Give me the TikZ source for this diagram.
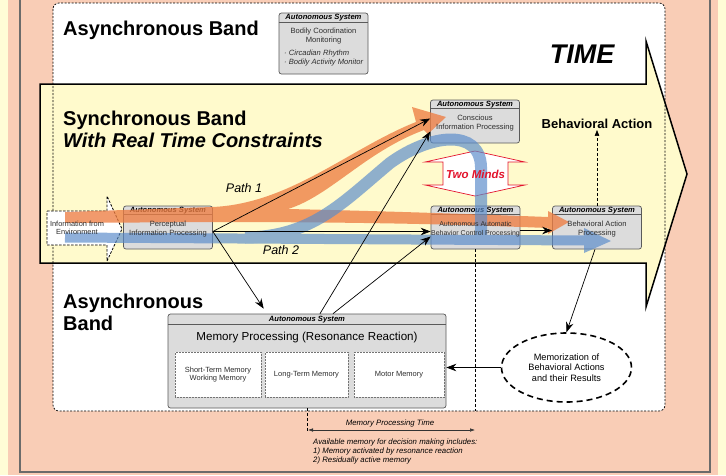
\documentclass[tikz,border=0pt]{standalone}
\usepackage{fontspec}
\setmainfont{Liberation Sans}
\usetikzlibrary{arrows.meta,positioning,shapes.geometric}

\definecolor{pageyellow}{HTML}{FFFCD6}
\definecolor{peach}{HTML}{F9CDB6}
\definecolor{framegrey}{HTML}{6B6B6B}
\definecolor{timeyellow}{HTML}{FFFACC}
\definecolor{boxgrey}{HTML}{DCDCDC}
\definecolor{boxedge}{HTML}{5A5A5A}
\definecolor{boxtext}{HTML}{2E2E2E}
\definecolor{flowora}{HTML}{EE7E43}
\definecolor{flowblue}{HTML}{5A8CCB}
\definecolor{mindred}{HTML}{E3142C}

% autonomous system box: name, x, y, width, height, header height
\newcommand{\autobox}[6]{%
  \node[autobox, minimum width=#4pt, minimum height=#5pt] (#1) at (#2,#3) {};
  \draw[boxedge, line width=0.6pt] ([yshift=-#6pt]#1.north west) -- ([yshift=-#6pt]#1.north east);
  \node[autohead] at ([yshift=-#6pt/2]#1.north) {Autonomous System};
}

\begin{document}
\begin{tikzpicture}[x=1pt, y=-1pt,
    autobox/.style={draw=boxedge, fill=boxgrey, rounded corners=2.5pt, line width=0.7pt, inner sep=0pt},
    autohead/.style={font=\fontsize{7.6}{8}\selectfont\bfseries\itshape, inner sep=0pt},
    autotext/.style={font=\fontsize{7.6}{8.6}\selectfont, text=boxtext, align=center, inner sep=0pt},
    bandtitle/.style={font=\fontsize{20}{22}\selectfont\bfseries, anchor=base west, inner sep=0pt},
    pathlabel/.style={font=\fontsize{12.5}{14}\selectfont\itshape, inner sep=0pt},
    link/.style={-{Stealth[length=10pt,width=7.5pt]}, line width=0.7pt},
    guide/.style={densely dashed, line width=0.6pt},
    asyncedge/.style={dash pattern=on 2pt off 1.5pt, line width=0.7pt, rounded corners=6pt},
    memcell/.style={draw=black!55, densely dotted, fill=white, line width=0.5pt, inner sep=0pt,
        minimum height=45pt, font=\fontsize{7.5}{8.6}\selectfont, align=center, text=boxtext}
]
\useasboundingbox (0,0) rectangle (726,475);

% page, frame and bands
\fill[pageyellow] (0,0) rectangle (726,475);
\fill[peach] (8,0) rectangle (718,475);
\draw[framegrey, line width=1.6pt] (20,-2) -- (20,472) -- (710,472) -- (710,-2);
\fill[white, rounded corners=6pt] (53,3) rectangle (665,411);
\filldraw[fill=timeyellow, line width=1.5pt] (40,84) -- (646,84) -- (646,41) -- (687,174)
    -- (646,307) -- (646,263) -- (40,263) -- cycle;
\draw[asyncedge] (53,3) rectangle (665,411);

\node[bandtitle] (async1) at (63,35) {Asynchronous Band};
\node[bandtitle, font=\fontsize{27}{30}\selectfont\bfseries\itshape, anchor=base] (time) at (582,63) {TIME};
\node[bandtitle] (sync1) at (63,125) {Synchronous Band};
\node[bandtitle, font=\fontsize{20}{22}\selectfont\bfseries\itshape] (sync2) at (63,147) {With Real Time Constraints};
\node[bandtitle] (async2) at (63,308) {Asynchronous};
\node[bandtitle] (async3) at (63,330) {Band};
\node[font=\fontsize{13}{14}\selectfont\bfseries, inner sep=1pt] (bact) at (597,124) {Behavioral Action};

% two minds
\filldraw[draw=mindred, fill=white, line width=0.7pt] (475,151) -- (525,162) -- (508,162) -- (508,185)
    -- (525,185) -- (475,196) -- (425,185) -- (443,185) -- (443,162) -- (425,162) -- cycle;

% input from environment
\filldraw[fill=white, line width=0.8pt, dash pattern=on 2.5pt off 1.5pt] (47,211) -- (107,211) -- (107,196)
    -- (122,229) -- (107,261) -- (107,245) -- (47,245) -- cycle;

% boxes
\autobox{bodily}{323.5}{43.5}{89}{61}{10}
\autobox{consc}{475}{121.5}{89}{43}{9}
\autobox{perc}{168}{227.5}{89}{43}{9}
\autobox{auto}{475.5}{227.5}{89}{43}{9}
\autobox{behav}{597}{227.5}{89}{43}{9}
\autobox{mem}{307}{361}{278}{94}{11}
\node[font=\fontsize{11.6}{13}\selectfont, inner sep=0pt] (memt) at (307,337) {Memory Processing (Resonance Reaction)};
\node[memcell, minimum width=86pt] (stm) at (218,374.5) {Short-Term Memory\\Working Memory};
\node[memcell, minimum width=83pt] (ltm) at (306.5,374.5) {Long-Term Memory};
\node[memcell, minimum width=90pt] (mtm) at (399,374.5) {Motor Memory};

\node[ellipse, draw, line width=1.6pt, dash pattern=on 6pt off 4pt, minimum width=130pt, minimum height=69pt,
    inner sep=0pt, align=center, font=\fontsize{9.2}{10.5}\selectfont] (memz) at (566.5,367.5)
    {Memorization of\\Behavioral Actions\\and their Results};

% flows
\fill[flowora, fill opacity=0.78] (65,212) -- (212,207) .. controls (290,204) and (350,148) .. (416,122)
    -- (412,107) -- (446,117) -- (428,134) -- (424,130) .. controls (365,152) and (330,196) .. (288,209)
    .. controls (380,211) and (470,214) .. (548,217) -- (548,211) -- (569,222) -- (548,234) -- (548,228)
    .. controls (470,225) and (380,222) .. (212,222) -- (65,223) -- cycle;
\begin{scope}[transparency group, opacity=0.68]
\draw[flowblue, line width=10pt] (65,237.5) -- (586,240.5);
\fill[flowblue] (584,228) -- (611,241) -- (584,253) -- cycle;
\draw[flowblue, line width=12pt] (245,237.5) .. controls (312,237) and (342,203) .. (390,163)
    .. controls (430,134) and (480,128) .. (481,167) -- (481,237);
\end{scope}

% texts over the flows
\node[autotext, font=\fontsize{7.6}{9}\selectfont] (bodyt) at (323.5,36.5) {Bodily Coordination\\Monitoring};
\node[autotext, anchor=west, align=left, font=\fontsize{7.6}{8.3}\selectfont\itshape] (bodyl) at (284,58)
    {· Circadian Rhythm\\· Bodily Activity Monitor};
\node[autotext] (consc-t) at ([yshift=-1.5pt]consc.center) {Conscious\\Information Processing};
\node[autotext] (perc-t) at ([yshift=-1.5pt]perc.center) {Perceptual\\Information Processing};
\node[autotext, font=\fontsize{7}{8.6}\selectfont] (auto-t) at ([yshift=-1.5pt]auto.center)
    {Autonomous Automatic\\Behavior Control Processing};
\node[autotext] (behav-t) at ([yshift=-1.5pt]behav.center) {Behavioral Action\\Processing};
\node[autotext, font=\fontsize{7.4}{8.6}\selectfont] (info) at (77,228) {Information from\\Environment};
\node[pathlabel] (p1) at (244,188) {Path 1};
\node[pathlabel] (p2) at (281,250.5) {Path 2};
\node[font=\fontsize{11.5}{12}\selectfont\bfseries\itshape, text=mindred, inner sep=0pt] (minds) at (475.5,174) {Two Minds};

% connections
\draw[link] ([yshift=-4pt]perc.east) -- ([yshift=3pt]consc.west);
\draw[link] ([yshift=-4pt]perc.east) -- ([yshift=-4pt]auto.west);
\draw[link, shorten >=6pt] ([yshift=-4pt]perc.east) -- ([xshift=-40pt]mem.north);
\draw[link] ([xshift=13pt]mem.north) -- ([yshift=-10pt]consc.west);
\draw[link] ([xshift=26pt]mem.north) -- ([yshift=-9pt]auto.west);
\draw[link] ([yshift=-3pt]auto.east) -- ([yshift=-3pt]behav.west);
\draw[link] ([xshift=-2pt]behav.south) -- (memz.north);
\draw[link] (memz.west) -- (memz.west -| mem.east);
\draw[guide, -{Triangle[length=6pt,width=4.5pt]}] (behav.north) -- (bact.south);

% time
\draw[guide] (auto.south) -- (475.5,411);
\draw[guide] (mem.south) -- (307,432);
\coordinate (mpl) at (308,430);
\coordinate (mpr) at (475,430);
\draw[{Latex[length=5pt,width=3.5pt]}-{Latex[length=5pt,width=3.5pt]}, line width=0.5pt, black!80] (mpl) -- (mpr);
\node[font=\fontsize{7.8}{9}\selectfont\itshape, inner sep=0pt] (mptime) at (390,423) {Memory Processing Time};
\node[anchor=north west, align=left, inner sep=0pt, font=\fontsize{7.8}{9}\selectfont\itshape] (avail) at (313,439)
    {Available memory for decision making includes:\\1) Memory activated by resonance reaction\\2) Residually active memory};
\end{tikzpicture}
\end{document}
